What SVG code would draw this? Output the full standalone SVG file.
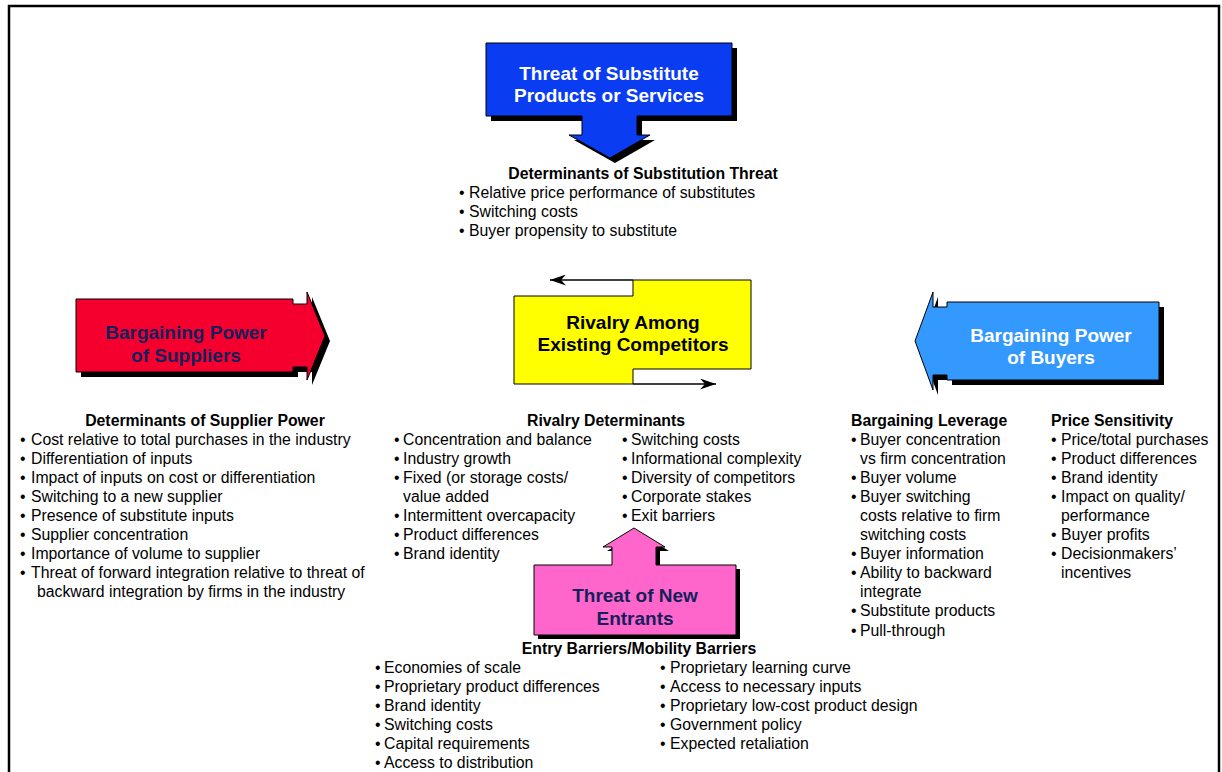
<svg xmlns="http://www.w3.org/2000/svg" width="1222" height="772" viewBox="0 0 1222 772">
<style>
.t{font-family:"Liberation Sans",Arial,sans-serif;font-size:15.8px;fill:#000}
.h{font-family:"Liberation Sans",Arial,sans-serif;font-size:15.8px;font-weight:bold;fill:#000}
.big{font-family:"Liberation Sans",Arial,sans-serif;font-size:19px;font-weight:bold;text-anchor:middle}
.sh{fill:#000}
.ol{stroke:#000;stroke-width:1}
.con{stroke:#000;stroke-width:1.3;fill:none}
</style>
<defs>
<marker id="ah" markerWidth="17" markerHeight="11" refX="16" refY="5.5" orient="auto" markerUnits="userSpaceOnUse">
<path d="M0,0 L16,5.5 L0,11 L5,5.5 Z" fill="#000"/>
</marker>
</defs>
<rect x="9" y="6" width="1210" height="780" fill="#fff" stroke="#000" stroke-width="2.5"/>

<g id="substitutes">
<path class="sh" transform="translate(5,5)" d="M486,43 L732,43 L732,116 L637,116 L637,135 L650,135 L610,158 L569,135 L582,135 L582,116 L486,116 Z"/>
<path class="ol" fill="#0a3cf2" d="M486,43 L732,43 L732,116 L637,116 L637,135 L650,135 L610,158 L569,135 L582,135 L582,116 L486,116 Z"/>
<text class="big" fill="#fff" x="609" y="80">Threat of Substitute</text>
<text class="big" fill="#fff" x="609" y="102">Products or Services</text>
</g>

<g id="substitution-determinants">
<text class="h" x="643" y="179" text-anchor="middle">Determinants of Substitution Threat</text>
<text class="t" y="198"><tspan x="459">•</tspan><tspan x="469">Relative price performance of substitutes</tspan></text>
<text class="t" y="217"><tspan x="459">•</tspan><tspan x="469">Switching costs</tspan></text>
<text class="t" y="236"><tspan x="459">•</tspan><tspan x="469">Buyer propensity to substitute</tspan></text>
</g>

<g id="suppliers">
<path class="sh" transform="translate(5,5)" d="M76,299 L293,299 L293,304 L307,304 L307,292 L325,336 L307,380 L307,367 L293,367 L293,372 L76,372 Z"/>
<path class="ol" fill="#f5002e" d="M76,299 L293,299 L293,304 L307,304 L307,292 L325,336 L307,380 L307,367 L293,367 L293,372 L76,372 Z"/>
<text class="big" fill="#14205a" x="186" y="339">Bargaining Power</text>
<text class="big" fill="#14205a" x="186" y="362">of Suppliers</text>
</g>

<g id="rivalry">
<path class="ol" fill="#ffff00" d="M514,296 L633,296 L633,280 L751,280 L751,369 L633,369 L633,384 L514,384 Z"/>
<text class="big" fill="#000" x="633" y="329">Rivalry Among</text>
<text class="big" fill="#000" x="633" y="351">Existing Competitors</text>
</g>

<g id="buyers">
<path class="sh" transform="translate(5,5)" d="M1159,302 L947,302 L947,307 L933,307 L933,292 L915,341 L933,390 L933,375 L947,375 L947,380 L1159,380 Z"/>
<path class="ol" fill="#3399ff" d="M1159,302 L947,302 L947,307 L933,307 L933,292 L915,341 L933,390 L933,375 L947,375 L947,380 L1159,380 Z"/>
<text class="big" fill="#fff" x="1051" y="342">Bargaining Power</text>
<text class="big" fill="#fff" x="1051" y="364">of Buyers</text>
</g>

<g id="new-entrants">
<path class="sh" transform="translate(4,4)" d="M534,565 L612,565 L612,547 L603,547 L634,528 L665,547 L656,547 L656,565 L736,565 L736,635 L534,635 Z"/>
<path class="ol" fill="#ff66cc" d="M534,565 L612,565 L612,547 L603,547 L634,528 L665,547 L656,547 L656,565 L736,565 L736,635 L534,635 Z"/>
<text class="big" fill="#14205a" x="635" y="602">Threat of New</text>
<text class="big" fill="#14205a" x="635" y="625">Entrants</text>
</g>

<g id="connectors">
<path class="con" d="M633,280 L550,280" marker-end="url(#ah)"/>
<path class="con" d="M633,384 L716,384" marker-end="url(#ah)"/>
</g>

<g id="supplier-determinants">
<text class="h" x="205" y="426" text-anchor="middle">Determinants of Supplier Power</text>
<text class="t" y="445"><tspan x="20">•</tspan><tspan x="31">Cost relative to total purchases in the industry</tspan></text>
<text class="t" y="464"><tspan x="20">•</tspan><tspan x="31">Differentiation of inputs</tspan></text>
<text class="t" y="483"><tspan x="20">•</tspan><tspan x="31">Impact of inputs on cost or differentiation</tspan></text>
<text class="t" y="502"><tspan x="20">•</tspan><tspan x="31">Switching to a new supplier</tspan></text>
<text class="t" y="521"><tspan x="20">•</tspan><tspan x="31">Presence of substitute inputs</tspan></text>
<text class="t" y="540"><tspan x="20">•</tspan><tspan x="31">Supplier concentration</tspan></text>
<text class="t" y="559"><tspan x="20">•</tspan><tspan x="31">Importance of volume to supplier</tspan></text>
<text class="t" y="578"><tspan x="20">•</tspan><tspan x="31">Threat of forward integration relative to threat of</tspan></text>
<text class="t" x="37" y="597">backward integration by firms in the industry</text>
</g>

<g id="rivalry-determinants">
<text class="h" x="606" y="426" text-anchor="middle">Rivalry Determinants</text>
<text class="t" y="445"><tspan x="394">•</tspan><tspan x="403">Concentration and balance</tspan></text>
<text class="t" y="464"><tspan x="394">•</tspan><tspan x="403">Industry growth</tspan></text>
<text class="t" y="483"><tspan x="394">•</tspan><tspan x="403">Fixed (or storage costs/</tspan></text>
<text class="t" x="403" y="502">value added</text>
<text class="t" y="521"><tspan x="394">•</tspan><tspan x="403">Intermittent overcapacity</tspan></text>
<text class="t" y="540"><tspan x="394">•</tspan><tspan x="403">Product differences</tspan></text>
<text class="t" y="559"><tspan x="394">•</tspan><tspan x="403">Brand identity</tspan></text>
<text class="t" y="445"><tspan x="622">•</tspan><tspan x="631">Switching costs</tspan></text>
<text class="t" y="464"><tspan x="622">•</tspan><tspan x="631">Informational complexity</tspan></text>
<text class="t" y="483"><tspan x="622">•</tspan><tspan x="631">Diversity of competitors</tspan></text>
<text class="t" y="502"><tspan x="622">•</tspan><tspan x="631">Corporate stakes</tspan></text>
<text class="t" y="521"><tspan x="622">•</tspan><tspan x="631">Exit barriers</tspan></text>
</g>

<g id="bargaining-leverage">
<text class="h" x="851" y="426">Bargaining Leverage</text>
<text class="t" y="445"><tspan x="851">•</tspan><tspan x="860">Buyer concentration</tspan></text>
<text class="t" x="860" y="464">vs firm concentration</text>
<text class="t" y="483"><tspan x="851">•</tspan><tspan x="860">Buyer volume</tspan></text>
<text class="t" y="502"><tspan x="851">•</tspan><tspan x="860">Buyer switching</tspan></text>
<text class="t" x="860" y="521">costs relative to firm</text>
<text class="t" x="860" y="540">switching costs</text>
<text class="t" y="559"><tspan x="851">•</tspan><tspan x="860">Buyer information</tspan></text>
<text class="t" y="578"><tspan x="851">•</tspan><tspan x="860">Ability to backward</tspan></text>
<text class="t" x="860" y="597">integrate</text>
<text class="t" y="616"><tspan x="851">•</tspan><tspan x="860">Substitute products</tspan></text>
<text class="t" y="636"><tspan x="851">•</tspan><tspan x="860">Pull-through</tspan></text>
</g>

<g id="price-sensitivity">
<text class="h" x="1051" y="426">Price Sensitivity</text>
<text class="t" y="445"><tspan x="1051">•</tspan><tspan x="1061">Price/total purchases</tspan></text>
<text class="t" y="464"><tspan x="1051">•</tspan><tspan x="1061">Product differences</tspan></text>
<text class="t" y="483"><tspan x="1051">•</tspan><tspan x="1061">Brand identity</tspan></text>
<text class="t" y="502"><tspan x="1051">•</tspan><tspan x="1061">Impact on quality/</tspan></text>
<text class="t" x="1061" y="521">performance</text>
<text class="t" y="540"><tspan x="1051">•</tspan><tspan x="1061">Buyer profits</tspan></text>
<text class="t" y="559"><tspan x="1051">•</tspan><tspan x="1061">Decisionmakers’</tspan></text>
<text class="t" x="1061" y="578">incentives</text>
</g>

<g id="entry-barriers">
<text class="h" x="639" y="654" text-anchor="middle">Entry Barriers/Mobility Barriers</text>
<text class="t" y="673"><tspan x="375">•</tspan><tspan x="384">Economies of scale</tspan></text>
<text class="t" y="692"><tspan x="375">•</tspan><tspan x="384">Proprietary product differences</tspan></text>
<text class="t" y="711"><tspan x="375">•</tspan><tspan x="384">Brand identity</tspan></text>
<text class="t" y="730"><tspan x="375">•</tspan><tspan x="384">Switching costs</tspan></text>
<text class="t" y="749"><tspan x="375">•</tspan><tspan x="384">Capital requirements</tspan></text>
<text class="t" y="768"><tspan x="375">•</tspan><tspan x="384">Access to distribution</tspan></text>
<text class="t" y="673"><tspan x="660">•</tspan><tspan x="670">Proprietary learning curve</tspan></text>
<text class="t" y="692"><tspan x="660">•</tspan><tspan x="670">Access to necessary inputs</tspan></text>
<text class="t" y="711"><tspan x="660">•</tspan><tspan x="670">Proprietary low-cost product design</tspan></text>
<text class="t" y="730"><tspan x="660">•</tspan><tspan x="670">Government policy</tspan></text>
<text class="t" y="749"><tspan x="660">•</tspan><tspan x="670">Expected retaliation</tspan></text>
</g>
</svg>
